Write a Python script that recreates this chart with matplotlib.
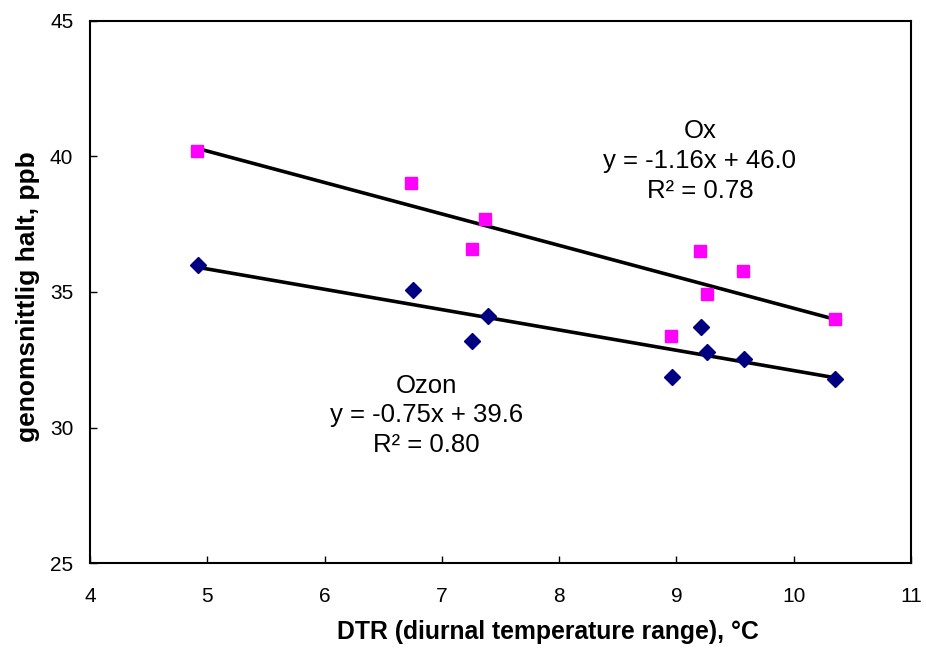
import matplotlib.pyplot as plt
import numpy as np

# Data
ox_dtr = [4.91, 6.74, 7.37, 7.26, 9.20, 9.57, 9.26, 10.35, 8.95]
ox_halt = [40.21, 39.03, 37.71, 36.60, 36.53, 35.79, 34.91, 34.02, 33.36]
ozon_dtr = [4.92, 6.75, 7.39, 7.26, 9.21, 9.26, 9.58, 8.96, 10.35]
ozon_halt = [35.98, 35.09, 34.13, 33.18, 33.69, 32.77, 32.51, 31.85, 31.78]

# Trendline coefficients (slope, intercept) and R2 as printed on chart
ox_fit = (-1.16, 46.0)
ox_r2 = 0.78
ozon_fit = (-0.75, 39.6)
ozon_r2 = 0.80

x_ticks = [4, 5, 6, 7, 8, 9, 10, 11]
y_ticks = [25, 30, 35, 40, 45]

plt.rcParams['font.family'] = ['Liberation Sans', 'DejaVu Sans']

fig = plt.figure(figsize=(9.26, 6.52), dpi=100)
ax = fig.add_axes([0.0972, 0.1365, 0.8866, 0.8313])

for dtr, halt, (k, m) in [(ox_dtr, ox_halt, ox_fit), (ozon_dtr, ozon_halt, ozon_fit)]:
    xs = np.array([min(dtr), max(dtr)])
    ax.plot(xs, k * xs + m, color='black', linewidth=2.6, zorder=2)

ax.plot(ox_dtr, ox_halt, linestyle='none', marker='s', markersize=8.3,
        color='#FF00FF', zorder=3)
ax.plot(ozon_dtr, ozon_halt, linestyle='none', marker='D', markersize=7.8,
        color='#000080', zorder=3)

ax.text(9.20, 39.84, f"Ox\ny = {ox_fit[0]:.2f}x + {ox_fit[1]:.1f}\nR\u00b2 = {ox_r2:.2f}",
        ha='center', va='center', fontsize=18.5, linespacing=1.3)
ax.text(6.87, 30.45, f"Ozon\ny = {ozon_fit[0]:.2f}x + {ozon_fit[1]:.1f}\nR\u00b2 = {ozon_r2:.2f}",
        ha='center', va='center', fontsize=18.5, linespacing=1.3)

ax.set_xlim(4, 11)
ax.set_ylim(25, 45)
ax.set_xticks(x_ticks)
ax.set_yticks(y_ticks)
ax.tick_params(direction='in', length=5, width=1, labelsize=15)
ax.tick_params(axis='x', pad=17)
ax.tick_params(axis='y', pad=12)
for s in ax.spines.values():
    s.set_linewidth(1.5)

fig.text(548 / 926, 1 - 632 / 652, "DTR (diurnal temperature range), \u00b0C",
         ha='center', va='center', fontsize=17.8, fontweight='bold')
fig.text(28 / 926, 1 - 297 / 652, "genomsnittlig halt, ppb", rotation=90,
         ha='center', va='center', fontsize=19, fontweight='bold')

fig.savefig("out.png", dpi=100)
